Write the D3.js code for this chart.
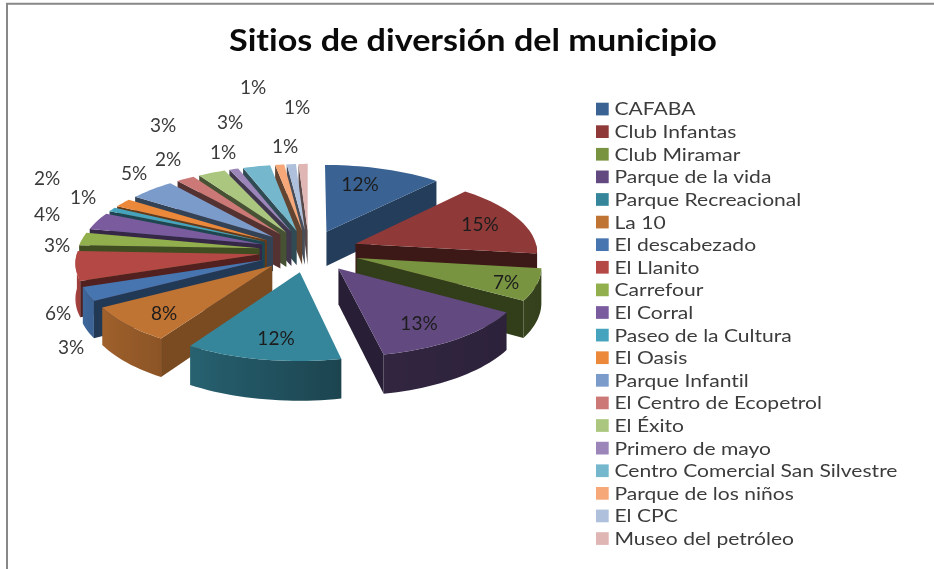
<!DOCTYPE html>
<html>
<head>
<meta charset="utf-8">
<script src="https://cdnjs.cloudflare.com/ajax/libs/d3/7.8.5/d3.min.js"></script>
<style>
html,body{margin:0;padding:0;background:#fff;overflow:hidden}
svg{display:block}
text{font-family:Lato,"Open Sans",sans-serif;font-variant-ligatures:none}
</style>
</head>
<body>
<svg id="c" width="934" height="569"></svg>
<script>
// ---- data ----
const categories = ["CAFABA","Club Infantas","Club Miramar","Parque de la vida","Parque Recreacional","La 10","El descabezado","El Llanito","Carrefour","El Corral","Paseo de la Cultura","El Oasis","Parque Infantil","El Centro de Ecopetrol","El Éxito","Primero de mayo","Centro Comercial San Silvestre","Parque de los niños","El CPC","Museo del petróleo"];
// percentages; the labels show them rounded
const values = [11.6,15.4,6.7,12.9,12.3,7.6,2.9,6.1,2.7,3.6,0.9,1.8,4.5,1.8,2.7,0.9,2.7,0.9,0.9,0.9];
const colors = ["#3A6393","#8F3A38","#789440","#624A80","#36869B","#C07434","#4675B0","#B44845","#91AF4C","#7A5B9E","#45A3BD","#EB883A","#7B9BCB","#CB7877","#ABC67E","#9C86B9","#75B8CD","#F6A878","#AFC0DD","#E0B6B5"];
const titleText = "Sitios de diversión del municipio";
// hand-placed data labels of the original chart (layout only)
const labelSpots = [[360,184],[480,224],[506,282],[419,323],[276,338],[164,313],[71,347],[58,313],[57,245],[47,214],[83,197],[47,178],[134,173],[168,159],[163,125],[223,152],[230,122],[285,146],[253,87],[297,107]];

// ---- layout ----
const svg = d3.select("#c");
const cx = 309, cy = 251, R = 182, explode = 50, depth = 35, tilt = 0.42, persp = 0.118;
const project = (X, Y, z = 0) => {
  const s = 1 / (1 - persp * Y / (R + explode));
  return [cx + X * s, cy + tilt * Y * s + z * s];
};
const pie = d3.pie().sort(null).startAngle(0).endAngle(2 * Math.PI)(values);
const deg = Math.PI / 180;
const wallShade = d3.scaleLinear().domain([38,96,166,217,245,360]).range([.63,.42,.4,.66,.45,.4]).clamp(true);
const rimShade = d3.scaleLinear().domain([90,166,217,270]).range([.42,.5,.75,.95]).clamp(true);
const shade = (c, f) => { const q = d3.rgb(c); return d3.rgb(q.r * f, q.g * f, q.b * f).formatHex(); };
const poly = d3.line();

const slices = pie.map((p, i) => {
  const mid = (p.startAngle + p.endAngle) / 2;
  const ox = explode * Math.sin(mid), oy = -explode * Math.cos(mid);
  const at = (a, r, z) => project(ox + r * Math.sin(a), oy - r * Math.cos(a), z);
  const n = Math.max(4, Math.ceil((p.endAngle - p.startAngle) / (2 * deg)));
  const angles = d3.range(n + 1).map(k => p.startAngle + (p.endAngle - p.startAngle) * k / n);
  return {i, p, mid, at, angles};
}).sort((a, b) => d3.ascending(-Math.cos(a.mid), -Math.cos(b.mid)));

// frame
svg.append("path").attr("d", "M7,569V3.8H934").attr("fill","none").attr("stroke","#888").attr("stroke-width",2);

const defs = svg.append("defs");
const chart = svg.append("g").style("filter","blur(0.45px)");
const g = chart.append("g");
slices.forEach(s => {
  const col = colors[s.i], G = g.append("g");
  const wallAngle = s.p.startAngle > Math.PI ? s.p.startAngle
                  : s.p.endAngle <= Math.PI ? s.p.endAngle : null;
  if (wallAngle !== null) {
    G.append("path")
      .attr("d", poly([s.at(0,0,0), s.at(wallAngle,R,0), s.at(wallAngle,R,depth), s.at(0,0,depth)]) + "Z")
      .attr("fill", shade(col, wallShade(wallAngle / deg)));
  }
  // outer rim: only the part turned towards the viewer, shaded along its length
  const rim = s.angles.filter(a => Math.cos(a) < 0.02);
  if (rim.length > 1) {
    const xs = rim.map(a => s.at(a,R,0)[0]);
    const x0 = d3.min(xs), x1 = d3.max(xs);
    const id = "rim" + s.i;
    const grad = defs.append("linearGradient").attr("id", id)
      .attr("gradientUnits","userSpaceOnUse").attr("x1", x0).attr("x2", x1).attr("y1",0).attr("y2",0);
    rim.map(a => ({off: (s.at(a,R,0)[0] - x0) / Math.max(1, x1 - x0), c: shade(col, rimShade(a / deg))}))
      .sort((a, b) => d3.ascending(a.off, b.off))
      .forEach(st => grad.append("stop").attr("offset", st.off).attr("stop-color", st.c));
    G.append("path")
      .attr("d", poly([...rim.map(a => s.at(a,R,0)), ...rim.slice().reverse().map(a => s.at(a,R,depth))]) + "Z")
      .attr("fill", `url(#${id})`);
  }
  G.append("path")
    .attr("d", poly([s.at(0,0,0), ...s.angles.map(a => s.at(a,R,0))]) + "Z")
    .attr("fill", col);
});

// data labels
chart.append("g").selectAll("text").data(values).join("text")
  .attr("x", (d,i) => labelSpots[i][0]).attr("y", (d,i) => labelSpots[i][1])
  .attr("dy", ".36em").attr("text-anchor","middle")
  .attr("font-size", 19).attr("fill", (d,i) => i < 6 ? "#1c1c1c" : "#3a3a3a")
  .text(d => Math.round(d) + "%");

// title
chart.append("text").attr("x", 229).attr("y", 51)
  .attr("font-size", 31).attr("font-weight", 700).attr("fill", "#0a0a0a")
  .attr("textLength", 488).attr("lengthAdjust","spacingAndGlyphs")
  .text(titleText);

// legend
const legendY = d3.scalePoint().domain(d3.range(categories.length)).range([109, 538.5]);
const legend = chart.append("g").selectAll("g").data(categories).join("g")
  .attr("transform", (d,i) => `translate(596,${legendY(i)})`);
legend.append("rect").attr("y",-6.3).attr("width",12.7).attr("height",12.7).attr("fill",(d,i)=>colors[i]);
const labels = legend.append("text").attr("x",18.5).attr("dy",".36em")
  .attr("font-size",18).attr("fill","#3c3c3c").text(d=>d);
const longest = d3.max(labels.nodes(), n => n.getComputedTextLength());
const stretch = 283 / longest;
labels.each(function(){ d3.select(this).attr("textLength", this.getComputedTextLength()*stretch).attr("lengthAdjust","spacingAndGlyphs"); });
</script>
</body>
</html>
